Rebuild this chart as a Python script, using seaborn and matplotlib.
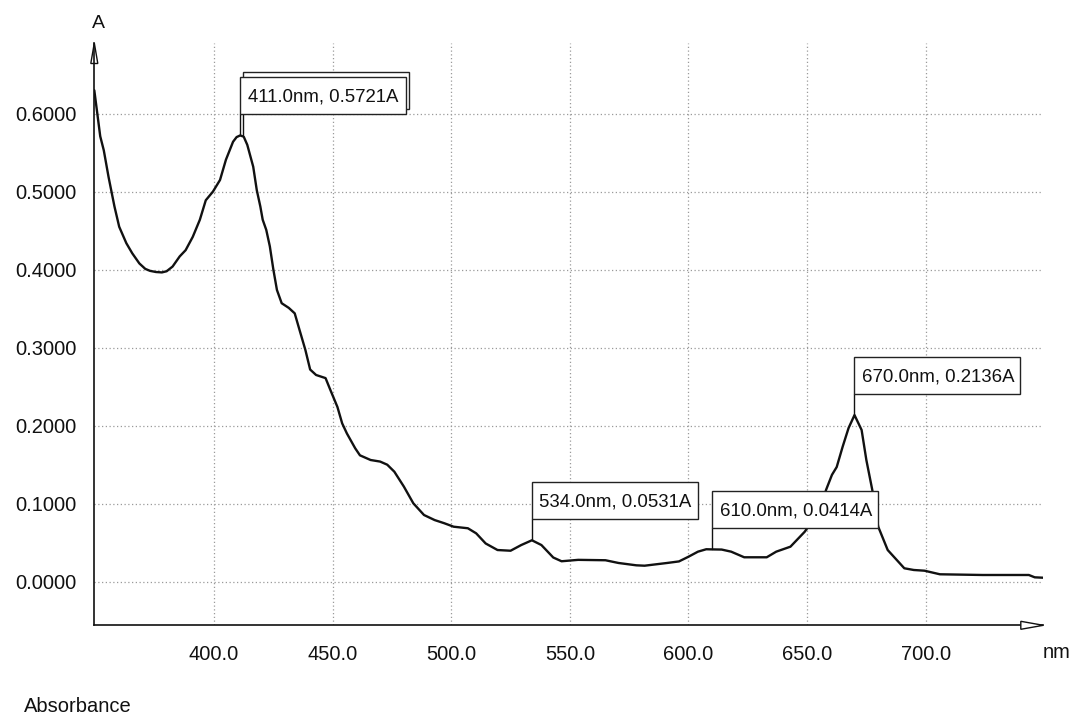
import matplotlib
matplotlib.use("Agg")
import matplotlib.pyplot as plt
import matplotlib.transforms as mtrans
from matplotlib.patches import Rectangle, Polygon
from matplotlib.lines import Line2D
import pandas as pd
import seaborn as sns

# Absorbance spectrum (wavelength in nm, absorbance in A)
wavelength = [
    349.5, 352.0, 353.5, 355.5, 358.0, 360.0, 363.0, 365.5, 368.5, 371.0,
    373.0, 375.5, 378.0, 380.0, 382.5, 385.5, 388.0, 391.0, 394.0, 396.5,
    399.5, 402.5, 405.0, 408.0, 409.5, 411.0, 412.5, 414.0, 416.5, 418.0,
    419.5, 420.5, 422.0, 423.5, 425.0, 426.5, 428.5, 431.5, 434.0, 436.0,
    438.5, 440.5, 443.0, 447.0, 449.0, 452.0, 454.0, 456.0, 459.5, 461.5,
    466.0, 470.0, 473.0, 476.0, 480.0, 484.0, 488.5, 493.0, 497.0, 501.0,
    507.0, 510.5, 514.5, 519.5, 525.0, 529.5, 534.0, 538.0, 543.0, 546.5,
    553.5, 565.0, 570.5, 578.0, 581.5, 585.0, 591.0, 596.0, 600.0, 604.0,
    607.5, 610.0, 614.0, 618.0, 623.5, 633.0, 637.0, 643.0, 649.0, 655.5,
    658.0, 660.5, 662.5, 665.0, 667.5, 670.0, 673.0, 675.0, 677.5, 680.0,
    684.0, 691.0, 695.0, 699.5, 706.0, 724.0, 743.5, 746.0, 749.5,
]
absorbance = [
    0.6300, 0.5710, 0.5530, 0.5190, 0.4810, 0.4550, 0.4340, 0.4210, 0.4080, 0.4010,
    0.3985, 0.3970, 0.3965, 0.3980, 0.4040, 0.4170, 0.4250, 0.4420, 0.4640, 0.4890,
    0.5000, 0.5150, 0.5410, 0.5640, 0.5700, 0.5721, 0.5705, 0.5600, 0.5320, 0.5020,
    0.4810, 0.4640, 0.4510, 0.4300, 0.4000, 0.3740, 0.3570, 0.3510, 0.3440, 0.3230,
    0.2970, 0.2720, 0.2650, 0.2610, 0.2460, 0.2240, 0.2030, 0.1900, 0.1710, 0.1620,
    0.1560, 0.1540, 0.1500, 0.1410, 0.1220, 0.1005, 0.0855, 0.0790, 0.0750, 0.0705,
    0.0685, 0.0620, 0.0490, 0.0406, 0.0397, 0.0470, 0.0531, 0.0470, 0.0310, 0.0262,
    0.0280, 0.0275, 0.0240, 0.0210, 0.0205, 0.0218, 0.0240, 0.0260, 0.0320, 0.0385,
    0.0416, 0.0414, 0.0412, 0.0385, 0.0313, 0.0313, 0.0385, 0.0449, 0.0640, 0.0920,
    0.1176, 0.1370, 0.1470, 0.1730, 0.1970, 0.2136, 0.1945, 0.1560, 0.1176, 0.0705,
    0.0406, 0.0172, 0.0150, 0.0141, 0.0095, 0.0086, 0.0086, 0.0056, 0.0051,
]

# Labelled peaks
peak_nm = [411.0, 534.0, 610.0, 670.0]
peak_abs = [0.5721, 0.0531, 0.0414, 0.2136]

x_ticks = [400.0, 450.0, 500.0, 550.0, 600.0, 650.0, 700.0]
y_ticks = [0.0, 0.1, 0.2, 0.3, 0.4, 0.5, 0.6]

sns.set_theme(style="white")
plt.rcParams["font.family"] = ["Liberation Sans", "DejaVu Sans"]

W, H, DPI = 1074, 716, 100
fig = plt.figure(figsize=(W / DPI, H / DPI), dpi=DPI)
left, right, bottom, top = 94.3, 1043.3, 625.3, 43.0
ax = fig.add_axes([left / W, 1 - bottom / H, (right - left) / W, (bottom - top) / H])

df = pd.DataFrame({"nm": wavelength, "A": absorbance})
sns.lineplot(data=df, x="nm", y="A", ax=ax, color="#111111", linewidth=1.7,
             estimator=None, sort=False, zorder=4)

ax.set_xlim(349.5, 749.6)
ax.set_ylim(-0.0559, 0.6906)
ax.set_xlabel("")
ax.set_ylabel("")

ax.set_xticks(x_ticks)
ax.set_xticklabels([f"{v:.1f}" for v in x_ticks])
ax.set_yticks(y_ticks)
ax.set_yticklabels([f"{v:.4f}" for v in y_ticks])
ax.tick_params(axis="both", direction="inout", length=16, width=1.0,
               colors="#111111", labelsize=14.5)
ax.tick_params(axis="x", pad=6.0)
ax.tick_params(axis="y", pad=5.0)

ax.grid(True, linestyle=(0, (1, 2)), color="#9a9a9a", linewidth=0.9)
ax.set_axisbelow(True)

for side in ("top", "right"):
    ax.spines[side].set_visible(False)
for side in ("left", "bottom"):
    ax.spines[side].set_color("#111111")
    ax.spines[side].set_linewidth(1.2)

# Open arrowheads at the ends of both axes (sizes in inches)
y_tip = fig.dpi_scale_trans + mtrans.ScaledTranslation(0, 1, ax.transAxes)
ax.add_patch(Polygon([(0, 0), (-0.035, -0.205), (0.035, -0.205)], closed=True,
                     transform=y_tip, facecolor="none", edgecolor="#111111",
                     linewidth=1.0, clip_on=False, zorder=5))
x_tip = fig.dpi_scale_trans + mtrans.ScaledTranslation(1, 0, ax.transAxes)
ax.add_patch(Polygon([(0, 0), (-0.225, 0.04), (-0.225, -0.04)], closed=True,
                     transform=x_tip, facecolor="white", edgecolor="#111111",
                     linewidth=1.0, clip_on=False, zorder=5))


def peak_label(x, y, text, dx=0.0, dy=0.0, z=6):
    """Boxed value label sitting above a peak, with a vertical leader."""
    t = fig.dpi_scale_trans + mtrans.ScaledTranslation(x, y, ax.transData)
    gap = 0.215
    ax.add_line(Line2D([dx, dx], [0.0, gap + dy], transform=t, color="#111111",
                       linewidth=1.0, clip_on=False, zorder=z))
    ax.add_patch(Rectangle((dx, gap + dy), 1.66, 0.37, transform=t,
                           facecolor="white", edgecolor="#222222", linewidth=1.0,
                           clip_on=False, zorder=z))
    if text:
        ax.text(dx + 0.075, gap + dy + 0.12, text, transform=t, ha="left",
                va="baseline", fontsize=13.4, color="#111111", clip_on=False,
                zorder=z + 0.5)


labels = [f"{n:.1f}nm, {a:.4f}A" for n, a in zip(peak_nm, peak_abs)]
# second scan's box for the 411 nm band, just behind the first one
peak_label(peak_nm[0], peak_abs[0], "", dx=0.025, dy=0.045, z=6)
for n, a, s in zip(peak_nm, peak_abs, labels):
    peak_label(n, a, s, z=8)

fig.text(98 / W, 1 - 23 / H, "A", ha="center", va="center", fontsize=14,
         color="#111111")
fig.text(1043 / W, 1 - 657.5 / H, "nm", ha="left", va="baseline", fontsize=14.5,
         color="#111111")
fig.text(24 / W, 1 - 712 / H, "Absorbance", ha="left", va="baseline",
         fontsize=14.5, color="#111111")

fig.savefig("out.png", dpi=DPI)
